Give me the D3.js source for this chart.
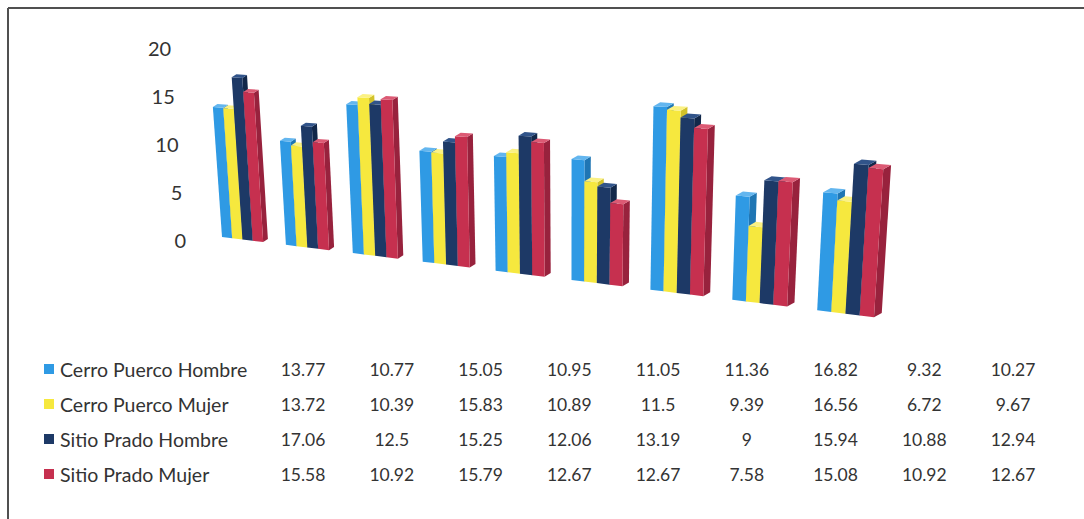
<!DOCTYPE html>
<html>
<head>
<meta charset="utf-8">
<script src="https://cdn.jsdelivr.net/npm/d3@7"></script>
<style>
  html, body { margin: 0; padding: 0; background: #ffffff; }
  svg { display: block; }
  text { font-family: Lato, "Open Sans", sans-serif; fill: #333333; }
</style>
</head>
<body>
<svg id="chart" width="1084" height="519"></svg>
<script>
// ---- data ----
const groups = [0, 1, 2, 3, 4, 5, 6, 7, 8];
const seriesNames = ["Cerro Puerco Hombre", "Cerro Puerco Mujer", "Sitio Prado Hombre", "Sitio Prado Mujer"];
const cerroPuercoHombre = [13.77, 10.77, 15.05, 10.95, 11.05, 11.36, 16.82, 9.32, 10.27];
const cerroPuercoMujer  = [13.72, 10.39, 15.83, 10.89, 11.5, 9.39, 16.56, 6.72, 9.67];
const sitioPradoHombre  = [17.06, 12.5, 15.25, 12.06, 13.19, 9, 15.94, 10.88, 12.94];
const sitioPradoMujer   = [15.58, 10.92, 15.79, 12.67, 12.67, 7.58, 15.08, 10.92, 12.67];
const yTicks = [0, 5, 10, 15, 20];

const seriesValues = [cerroPuercoHombre, cerroPuercoMujer, sitioPradoHombre, sitioPradoMujer];
const palette = {
  front: ["#2f9ae4", "#f6e83e", "#1d3966", "#c6304f"],
  side:  ["#1f76b4", "#d2c22a", "#12284a", "#98223d"],
  top:   ["#63b6ef", "#fbf183", "#31548a", "#dc5a74"]
};

const svg = d3.select("#chart");

// frame
svg.append("line").attr("x1", 8).attr("y1", 8).attr("x2", 1084).attr("y2", 8)
  .attr("stroke", "#505050").attr("stroke-width", 2);
svg.append("line").attr("x1", 8).attr("y1", 8).attr("x2", 8).attr("y2", 519)
  .attr("stroke", "#505050").attr("stroke-width", 2);

// ---- scales (flat world) ----
// group position along the floor, in group units
const xGroup = d3.scaleBand().domain(groups).range([-0.175, 8.825])
  .paddingInner(0.35).paddingOuter(0.175);
const xSeries = d3.scaleBand().domain(d3.range(seriesNames.length))
  .range([0, xGroup.bandwidth()]);
// value -> height in pixels at the axis position
const yHeight = d3.scaleLinear().domain([0, 20]).range([0, 192]);

// ---- perspective projection of the floor and verticals ----
const vanish = { x: 569, y: 5170 };          // vertical lines converge here
function floorX(u) { return 222 + 62.4 * u + 1.5 * u * u; }
function floorY(x) { return 237 + 0.123 * (x - 222); }
function depthScale(x) { return (9.5 + 0.00344 * (x - 240)) / 9.6; }
// point at floor position u lifted by value v
function project(u, v) {
  const bx = floorX(u), by = floorY(bx);
  const h = yHeight(v) * depthScale(bx);
  const lean = (bx - vanish.x) / (vanish.y - by);
  return [bx + lean * h, by - h];
}
function depthVec(u) {
  const bx = floorX(u);
  return [4.5 + 0.005 * (bx - 222), -3 - 0.002 * (bx - 222)];
}
const poly = pts => "M" + pts.map(p => p[0].toFixed(2) + "," + p[1].toFixed(2)).join("L") + "Z";

// ---- bars ----
const barsG = svg.append("g");
groups.forEach(g => {
  seriesValues.forEach((vals, s) => {
    const v = vals[g];
    const u0 = xGroup(g) + xSeries(s);
    const u1 = u0 + xSeries.bandwidth();
    const bl = project(u0, 0), br = project(u1, 0);
    const tl = project(u0, v), tr = project(u1, v);
    const d = depthVec(u1);
    const add = p => [p[0] + d[0], p[1] + d[1]];
    // side face
    barsG.append("path").attr("d", poly([br, tr, add(tr), add(br)]))
      .attr("fill", palette.side[s]);
    // front face
    barsG.append("path").attr("d", poly([bl, br, tr, tl]))
      .attr("fill", palette.front[s]);
    // top face
    barsG.append("path").attr("d", poly([tl, tr, add(tr), add(tl)]))
      .attr("fill", palette.top[s]);
  });
});

// ---- value axis labels ----
const axisG = svg.append("g");
function axisPoint(v) {
  const bx = 186, by = 240;
  const h = yHeight(v);
  const lean = (bx - vanish.x) / (vanish.y - by);
  return [bx + lean * h, by - h];
}
yTicks.forEach(t => {
  const p = axisPoint(t);
  axisG.append("text").attr("x", p[0]).attr("y", p[1])
    .attr("text-anchor", "end").attr("dominant-baseline", "central")
    .attr("font-size", 20).text(t);
});

// ---- data table with legend keys ----
const colX = d3.scalePoint().domain(groups).range([303, 1013]);
const rowY = d3.scalePoint().domain(d3.range(seriesNames.length)).range([369, 474]);
const tableG = svg.append("g");
seriesNames.forEach((name, s) => {
  const y = rowY(s);
  tableG.append("rect").attr("x", 44).attr("y", y - 5).attr("width", 10).attr("height", 10)
    .attr("fill", palette.front[s]);
  tableG.append("text").attr("x", 60).attr("y", y).attr("dominant-baseline", "central")
    .attr("font-size", 19.5).text(name);
  seriesValues[s].forEach((v, g) => {
    tableG.append("text").attr("x", colX(g)).attr("y", y)
      .attr("text-anchor", "middle").attr("dominant-baseline", "central")
      .attr("font-size", 17.5).text(v);
  });
});
</script>
</body>
</html>
